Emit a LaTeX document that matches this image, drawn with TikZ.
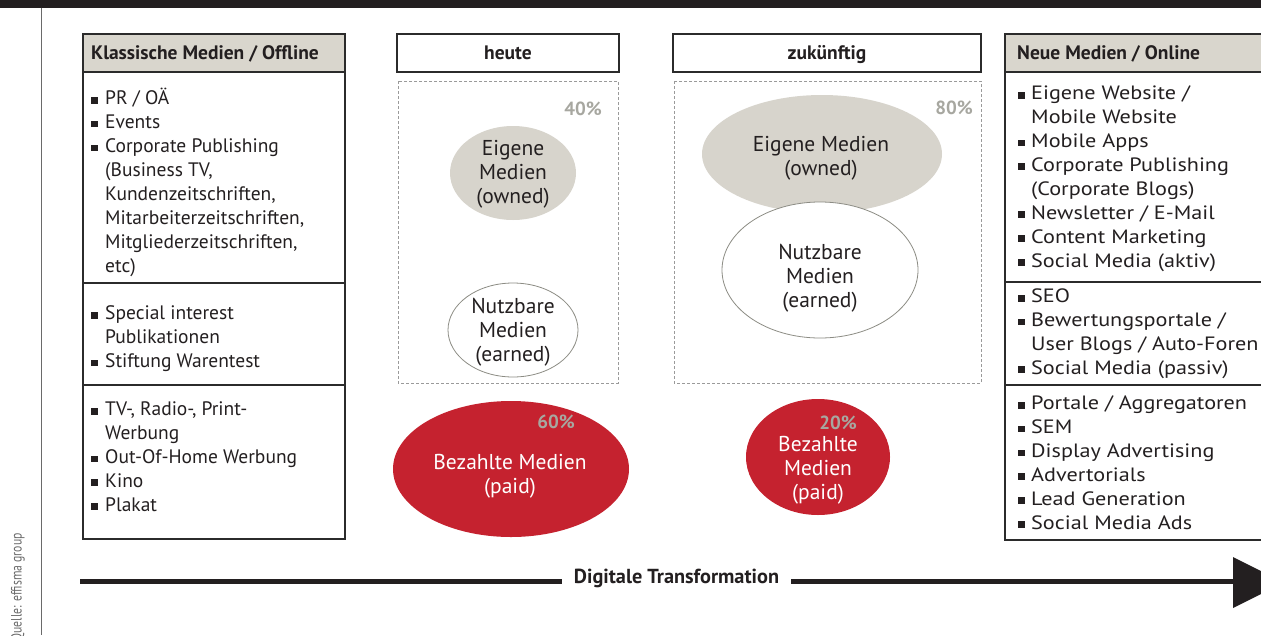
\documentclass[tikz,border=0pt]{standalone}
\usepackage{fontspec}
\setmainfont{PT Sans}
\newfontfamily\widefont{PT Sans}[FakeStretch=1.15]
\newfontfamily\narrowfont{PT Sans}[FakeStretch=0.78]
\usetikzlibrary{shapes.geometric,calc}
\definecolor{hdr}{HTML}{D9D6CD}
\definecolor{owned}{HTML}{D7D4CC}
\definecolor{paid}{HTML}{C5222F}
\definecolor{pctc}{HTML}{A7A7A0}
\definecolor{txt}{HTML}{231F20}
\definecolor{boxc}{HTML}{2B2B2B}
\definecolor{dashc}{HTML}{9A9A9A}
\definecolor{earnc}{HTML}{8C8C84}
\definecolor{srcc}{HTML}{6A6A6A}
\newcommand\bul{\makebox[14pt][l]{\rule[1.2pt]{6.8pt}{6.8pt}}}
\newcommand\bulr{\makebox[13pt][l]{\rule[1.2pt]{6.8pt}{6.8pt}}}
\newcommand\ind{\hspace*{14pt}}
\newcommand\indr{\hspace*{13pt}}
\begin{document}
\begin{tikzpicture}[x=1pt,y=-1pt,
  box/.style={draw=boxc, line width=1.1pt},
  topedge/.style={draw=boxc, line width=2.2pt},
  hdrbox/.style={box, fill=hdr},
  listL/.style={anchor=north west, inner sep=0pt, align=left, text=txt,
    font=\fontsize{19.5}{23.9}\selectfont},
  listR/.style={anchor=north west, inner sep=0pt, align=left, text=txt,
    font=\widefont\fontsize{19.3}{23.9}\selectfont},
  hdrtxt/.style={inner sep=0pt, text=txt, font=\bfseries\fontsize{19.5}{23.9}\selectfont},
  elltxt/.style={inner sep=0pt, align=center, text=txt, font=\fontsize{21.5}{24}\selectfont},
  pct/.style={inner sep=0pt, text=pctc, font=\bfseries\fontsize{19}{22}\selectfont},
  dashbox/.style={draw=dashc, line width=0.8pt, dash pattern=on 3pt off 2pt},
  ell/.style={ellipse, inner sep=0pt},
  ownedell/.style={ell, fill=owned},
  earnell/.style={ell, fill=white, draw=earnc, line width=0.8pt},
  paidell/.style={ell, fill=paid}
]
\useasboundingbox (0,0) rectangle (1261,635);
% top bar and side rule
\fill[txt] (0,0) rectangle (1261,7.5);
\draw[srcc, line width=1.4pt] (41.5,7.5) -- (41.5,635);
\begin{scope}
\clip (0,0) rectangle (1261,635);
\node[rotate=90, anchor=base east, inner sep=0pt, text=srcc,
  font=\narrowfont\fontsize{15}{17}\selectfont] (src) at (21.5,533) {Quelle: effisma group};
\end{scope}

% left box
\draw[hdrbox] (83,34) rectangle (345,72);
\draw[topedge] (83,34) -- (345,34);
\draw[box] (83,72) rectangle (345,539);
\draw[box] (83,283) -- (345,283);
\draw[box] (83,385) -- (345,385);
\node[hdrtxt, anchor=base west] (lhdr) at (91,59) {Klassische Medien / Offline};
\node[listL] (l1) at (91,87.8) {\strut\bul PR / OÄ\\
\strut\bul Events\\
\strut\bul Corporate Publishing\\
\strut\ind(Business TV,\\
\strut\ind Kundenzeitschriften,\\
\strut\ind Mitarbeiterzeitschriften,\\
\strut\ind Mitgliederzeitschriften,\\
\strut\ind etc)};
\node[listL] (l2) at (91,302.8) {\strut\bul Special interest\\
\strut\ind Publikationen\\
\strut\bul Stiftung Warentest};
\node[listL] (l3) at (91,398.8) {\strut\bul TV-, Radio-, Print-\\
\strut\ind Werbung\\
\strut\bul Out-Of-Home Werbung\\
\strut\bul Kino\\
\strut\bul Plakat};

% right box
\draw[hdrbox] (1005,34) rectangle (1272,72);
\draw[topedge] (1005,34) -- (1272,34);
\draw[box] (1005,72) rectangle (1272,540);
\draw[box] (1005,282) -- (1272,282);
\draw[box] (1005,385) -- (1272,385);
\node[hdrtxt, anchor=base west] (rhdr) at (1017,59) {Neue Medien / Online};
\node[listR] (r1) at (1018,82.8) {\strut\bulr Eigene Website /\\
\strut\indr Mobile Website\\
\strut\bulr Mobile Apps\\
\strut\bulr Corporate Publishing\\
\strut\indr(Corporate Blogs)\\
\strut\bulr Newsletter / E-Mail\\
\strut\bulr Content Marketing\\
\strut\bulr Social Media (aktiv)};
\node[listR] (r2) at (1018,285.8) {\strut\bulr SEO\\
\strut\bulr Bewertungsportale /\\
\strut\indr User Blogs / Auto-Foren\\
\strut\bulr Social Media (passiv)};
\node[listR] (r3) at (1018,392.8) {\strut\bulr Portale / Aggregatoren\\
\strut\bulr SEM\\
\strut\bulr Display Advertising\\
\strut\bulr Advertorials\\
\strut\bulr Lead Generation\\
\strut\bulr Social Media Ads};

% heute column
\draw[box] (397,34) rectangle (619,72);
\draw[topedge] (397,34) -- (619,34);
\node[hdrtxt, anchor=base] (heute) at (508,59) {heute};
\draw[dashbox] (398,81) rectangle (618,383);
\node[pct] (p40) at (583,109) {40\%};
\node[ownedell, minimum width=126pt, minimum height=94pt] (hE) at (513,173) {};
\node[elltxt] (hEt) at (513,175) {\strut Eigene\\\strut Medien\\\strut(owned)};
\node[earnell, minimum width=130pt, minimum height=94pt] (hN) at (513,330) {};
\node[elltxt] (hNt) at (513,333) {\strut Nutzbare\\\strut Medien\\\strut(earned)};
\node[paidell, minimum width=236pt, minimum height=136pt] (hP) at (511,469) {};
\node[elltxt, text=white] (hPt) at (510,476.5) {\strut Bezahlte Medien\\\strut(paid)};
\node[pct] (p60) at (556,422) {60\%};

% zukuenftig column
\draw[box] (673,34) rectangle (981,72);
\draw[topedge] (673,34) -- (981,34);
\node[hdrtxt, anchor=base] (zuk) at (827,59) {zukünftig};
\draw[dashbox] (674,81) rectangle (981,383);
\node[pct] (p80) at (954,108) {80\%};
\node[ownedell, minimum width=240pt, minimum height=118pt] (zE) at (822,154) {};
\node[elltxt] (zEt) at (821,159) {\strut Eigene Medien\\\strut(owned)};
\node[earnell, minimum width=196pt, minimum height=136pt] (zN) at (820,270) {};
\node[elltxt] (zNt) at (820,279) {\strut Nutzbare\\\strut Medien\\\strut(earned)};
\node[paidell, minimum width=144pt, minimum height=116pt] (zP) at (818,457) {};
\node[elltxt, text=white] (zPt) at (818,471) {\strut Bezahlte\\\strut Medien\\\strut(paid)};
\node[pct] (p20) at (838,423) {20\%};

% transformation arrow
\coordinate (aS) at (80,581);
\coordinate (aE) at (1236,581);
\draw[txt, line width=5pt] (aS) -- (aE);
\fill[txt] (1233,557) -- (1284,582.5) -- (1233,608) -- cycle;
\node[hdrtxt, font=\bfseries\fontsize{20.3}{24}\selectfont, fill=white, inner xsep=12pt, inner ysep=4pt] (dt) at (676.5,578) {Digitale Transformation};
\end{tikzpicture}
\end{document}
